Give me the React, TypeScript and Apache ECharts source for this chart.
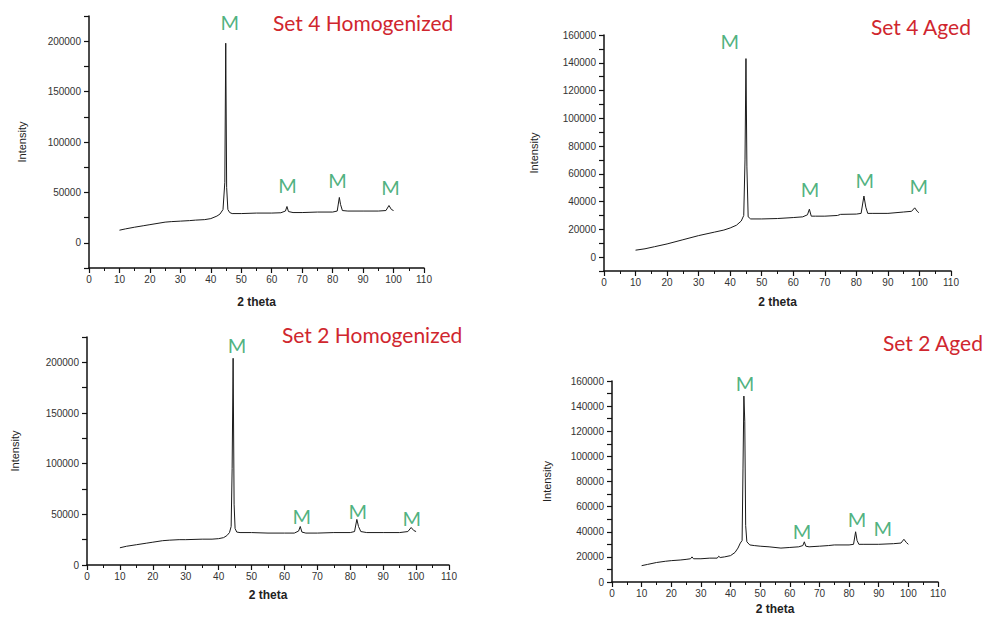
import React, { useEffect, useRef } from "react";
import * as echarts from "echarts";

// ---- Data ----
const titles = ["Set 4 Homogenized", "Set 4 Aged", "Set 2 Homogenized", "Set 2 Aged"];

const set4HomX = [10, 12, 15, 18, 20, 22, 25, 27, 30, 33, 35, 38, 40, 42, 43, 44, 44.6, 44.9, 45.2, 45.6, 46.2, 47, 50, 55, 60, 63, 64.5, 65.0, 65.5, 67, 70, 75, 80, 81.5, 82.2, 82.6, 83.2, 85, 90, 95, 97.5, 98.5, 99.3, 100];
const set4HomY = [12500, 13800, 15500, 17000, 18000, 19000, 20500, 21000, 21500, 22000, 22500, 23000, 24000, 26500, 28500, 33000, 60000, 198000, 55000, 33000, 30000, 29000, 29000, 29500, 29500, 29800, 31500, 36000, 31000, 30000, 30000, 30500, 30500, 31500, 45000, 38000, 32000, 31500, 31500, 31500, 32000, 37000, 33000, 32000];

const set4AgedX = [10, 13, 16, 20, 25, 30, 35, 38, 40, 42, 43.5, 44.3, 44.7, 45.0, 45.3, 45.7, 46.5, 50, 55, 60, 63, 64.5, 65.1, 65.7, 67, 70, 74, 75, 80, 81.5, 82.4, 83.0, 83.6, 85, 90, 95, 97.5, 98.5, 99.3, 99.8];
const set4AgedY = [5000, 6000, 7500, 9500, 12500, 15500, 18000, 19500, 21000, 23000, 26000, 30000, 70000, 143000, 65000, 29000, 27500, 27500, 27800, 28500, 29000, 30500, 34500, 29500, 29500, 29500, 30000, 30800, 31000, 31500, 44000, 36000, 31500, 31500, 31500, 32500, 33000, 35500, 33000, 32000];

const set2HomX = [10, 12, 15, 18, 20, 23, 25, 28, 30, 35, 38, 40, 41.5, 42.5, 43.3, 43.8, 44.1, 44.4, 44.7, 45.0, 45.5, 46.5, 50, 55, 60, 63, 64.3, 64.8, 65.3, 66.5, 70, 75, 80, 81.3, 82.0, 82.5, 83.2, 85, 90, 95, 97.5, 98.5, 99.3, 100];
const set2HomY = [17000, 18500, 20000, 21500, 22500, 24000, 24500, 25000, 25000, 25500, 25500, 26000, 27000, 29000, 32000, 38000, 95000, 204000, 60000, 36000, 32500, 32000, 32000, 31500, 31500, 31500, 33500, 38000, 32500, 31500, 31500, 32000, 32000, 33000, 45000, 38000, 33000, 32000, 32000, 32000, 33000, 37000, 34000, 33000];

const set2AgedX = [10, 12, 15, 18, 20, 23, 25, 26.5, 27, 27.5, 30, 33, 35.5, 36, 36.5, 38, 40, 41.5, 42.5, 43.3, 43.9, 44.2, 44.5, 44.8, 45.1, 45.5, 46.5, 48, 50, 53, 55, 57, 60, 63, 64.4, 64.9, 65.4, 66.5, 70, 73, 75, 80, 81.5, 82.2, 82.7, 83.3, 85, 90, 95, 97.5, 98.5, 99.3, 100];
const set2AgedY = [13000, 14000, 15500, 16500, 17000, 17500, 18000, 18500, 20000, 18500, 18500, 19000, 19000, 20500, 19500, 20000, 21000, 23500, 27000, 31000, 33000, 90000, 148000, 128000, 45000, 32000, 29500, 29000, 28500, 28000, 27500, 27000, 27500, 28000, 29000, 32000, 28500, 28000, 28500, 29000, 29500, 29500, 30000, 40000, 33000, 30000, 30000, 30000, 30500, 31000, 34000, 31500, 30000];

// "M" annotation positions (data coordinates)
const set4HomM = [[46.2, 219000], [65.2, 57000], [81.6, 62000], [99.0, 55000]];
const set4AgedM = [[39.9, 156000], [65.3, 49000], [82.7, 55500], [99.8, 51000]];
const set2HomM = [[45.6, 216800], [65.3, 48500], [82.3, 53500], [98.7, 46500]];
const set2AgedM = [[44.9, 158400], [64.1, 40600], [82.7, 50100], [91.4, 43000]];

// y-axis ranges
const yMins = [-25000, -10000, 0, 0];
const yMaxs = [225000, 160000, 225000, 160000];
const yTickSteps = [25000, 10000, 25000, 10000];
const yLabelSteps = [50000, 20000, 50000, 20000];

const xTicks = { min: 0, max: 110, step: 10 };

const panels = [
  { xs: set4HomX, ys: set4HomY, m: set4HomM },
  { xs: set4AgedX, ys: set4AgedY, m: set4AgedM },
  { xs: set2HomX, ys: set2HomY, m: set2HomM },
  { xs: set2AgedX, ys: set2AgedY, m: set2AgedM },
];

// ---- Layout ----
const grids = [
  { left: 89, top: 16, width: 335, height: 252 },
  { left: 604, top: 35, width: 347, height: 236 },
  { left: 87, top: 337, width: 362, height: 228 },
  { left: 612, top: 381, width: 326, height: 201 },
];
const titlePos = [
  { left: 273, top: 9 },
  { left: 871, top: 13 },
  { left: 282, top: 321 },
  { left: 883, top: 329 },
];
const yNameGaps = [62, 65, 67, 60];
const xNameGaps = [28, 25, 24, 21];

export default function App() {
  const ref = useRef<HTMLDivElement>(null);
  useEffect(() => {
    if (!ref.current) return;
    const chart = echarts.init(ref.current, undefined, { renderer: "svg" });
    const axisColor = "#111";
    const option: any = {
      animation: false,
      backgroundColor: "#ffffff",
      title: titles.map((t, i) => ({
        text: t,
        left: titlePos[i].left,
        top: titlePos[i].top,
        padding: 0,
        textStyle: {
          color: "#d0262e",
          fontSize: 21,
          fontWeight: "normal",
          fontFamily: "Lato",
          lineHeight: 26,
        },
      })),
      grid: grids.map((g) => ({ ...g, containLabel: false })),
      xAxis: grids.map((_, i) => ({
        type: "value",
        gridIndex: i,
        min: xTicks.min,
        max: xTicks.max,
        interval: xTicks.step,
        name: "2 theta",
        nameLocation: "middle",
        nameGap: xNameGaps[i],
        nameTextStyle: { fontSize: 12, fontWeight: "bold", color: "#222", fontFamily: "Liberation Sans" },
        axisLine: { show: true, onZero: false, lineStyle: { color: axisColor, width: 1.5 } },
        axisTick: { show: true, length: 5, lineStyle: { color: axisColor, width: 1.2 } },
        minorTick: { show: true, splitNumber: 2, length: 3, lineStyle: { color: axisColor, width: 1 } },
        axisLabel: { fontSize: 10, color: "#333", fontFamily: "Liberation Sans", margin: 6 },
        splitLine: { show: false },
      })),
      yAxis: grids.map((_, i) => ({
        type: "value",
        gridIndex: i,
        min: yMins[i],
        max: yMaxs[i],
        interval: yTickSteps[i],
        name: "Intensity",
        nameLocation: "middle",
        nameRotate: 90,
        nameGap: yNameGaps[i],
        nameTextStyle: { fontSize: 11, color: "#222", fontFamily: "Liberation Sans" },
        axisLine: { show: true, onZero: false, lineStyle: { color: axisColor, width: 1.5 } },
        axisTick: { show: true, length: 5, lineStyle: { color: axisColor, width: 1.2 } },
        axisLabel: {
          fontSize: 10,
          color: "#333",
          fontFamily: "Liberation Sans",
          margin: 8,
          formatter: (v: number) => (v >= 0 && v % yLabelSteps[i] === 0 ? String(v) : ""),
        },
        splitLine: { show: false },
      })),
      series: [
        ...panels.map((p, i) => ({
          type: "line",
          xAxisIndex: i,
          yAxisIndex: i,
          data: p.xs.map((x, k) => [x, p.ys[k]]),
          showSymbol: false,
          symbol: "none",
          lineStyle: { color: "#1a1a1a", width: 1 },
          silent: true,
        })),
        ...panels.map((p, i) => ({
          type: "scatter",
          xAxisIndex: i,
          yAxisIndex: i,
          data: p.m,
          symbol: "circle",
          symbolSize: 1,
          itemStyle: { color: "rgba(0,0,0,0)" },
          silent: true,
          label: {
            show: true,
            position: "inside",
            formatter: "M",
            color: "#1f9e5f",
            fontSize: 20,
            fontFamily: "Lato",
          },
        })),
      ],
    };
    chart.setOption(option);
    return () => chart.dispose();
  }, []);
  return (
    <div
      ref={ref}
      style={{ position: "absolute", left: 0, top: 0, width: 984, height: 617, background: "#fff" }}
    />
  );
}
